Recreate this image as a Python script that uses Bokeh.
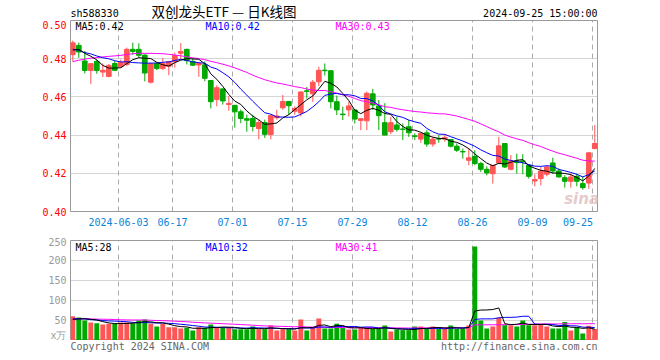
import pandas as pd
from bokeh.plotting import figure
from bokeh.layouts import column
from bokeh.models import Range1d, FixedTicker, Label, ColumnDataSource, NumeralTickFormatter
from bokeh.embed import file_html
from bokeh.resources import INLINE

# ---------------- data ----------------
opens = [0.4821, 0.4870, 0.4788, 0.4738, 0.4786, 0.4730, 0.4707, 0.4775, 0.4758, 0.4770,
         0.4849, 0.4849, 0.4819, 0.4677, 0.4775, 0.4749, 0.4761, 0.4784, 0.4828, 0.4849,
         0.4786, 0.4767, 0.4768, 0.4686, 0.4586, 0.4642, 0.4560, 0.4556, 0.4522, 0.4486,
         0.4487, 0.4434, 0.4466, 0.4403, 0.4491, 0.4543, 0.4576, 0.4525, 0.4516, 0.4632,
         0.4616, 0.4679, 0.4740, 0.4737, 0.4575, 0.4510, 0.4532, 0.4532, 0.4477, 0.4475,
         0.4616, 0.4553, 0.4465, 0.4418, 0.4453, 0.4432, 0.4444, 0.4396, 0.4379, 0.4412,
         0.4353, 0.4381, 0.4379, 0.4377, 0.4342, 0.4314, 0.4268, 0.4289, 0.4251, 0.4221,
         0.4198, 0.4254, 0.4356, 0.4221, 0.4265, 0.4265, 0.4242, 0.4160, 0.4172, 0.4195,
         0.4254, 0.4212, 0.4177, 0.4158, 0.4184, 0.4146, 0.4149, 0.4330]
highs = [0.4895, 0.4885, 0.4840, 0.4776, 0.4795, 0.4775, 0.4772, 0.4788, 0.4796, 0.4858,
         0.4884, 0.4880, 0.4822, 0.4779, 0.4779, 0.4805, 0.4788, 0.4832, 0.4882, 0.4852,
         0.4805, 0.4779, 0.4786, 0.4686, 0.4661, 0.4644, 0.4605, 0.4556, 0.4534, 0.4507,
         0.4507, 0.4481, 0.4481, 0.4507, 0.4533, 0.4610, 0.4577, 0.4551, 0.4628, 0.4652,
         0.4689, 0.4758, 0.4775, 0.4740, 0.4607, 0.4549, 0.4575, 0.4532, 0.4489, 0.4628,
         0.4642, 0.4584, 0.4567, 0.4496, 0.4496, 0.4461, 0.4479, 0.4409, 0.4412, 0.4426,
         0.4391, 0.4400, 0.4405, 0.4377, 0.4356, 0.4330, 0.4330, 0.4321, 0.4260, 0.4237,
         0.4242, 0.4391, 0.4356, 0.4295, 0.4303, 0.4300, 0.4242, 0.4195, 0.4233, 0.4242,
         0.4282, 0.4225, 0.4190, 0.4198, 0.4198, 0.4184, 0.4312, 0.4453]
lows = [0.4786, 0.4805, 0.4723, 0.4668, 0.4721, 0.4704, 0.4703, 0.4735, 0.4753, 0.4761,
        0.4820, 0.4805, 0.4681, 0.4670, 0.4740, 0.4740, 0.4714, 0.4753, 0.4796, 0.4770,
        0.4761, 0.4705, 0.4682, 0.4540, 0.4551, 0.4560, 0.4528, 0.4439, 0.4462, 0.4418,
        0.4419, 0.4378, 0.4385, 0.4378, 0.4481, 0.4533, 0.4506, 0.4506, 0.4498, 0.4592,
        0.4574, 0.4656, 0.4712, 0.4540, 0.4505, 0.4479, 0.4497, 0.4460, 0.4426, 0.4426,
        0.4532, 0.4426, 0.4400, 0.4405, 0.4418, 0.4374, 0.4391, 0.4374, 0.4360, 0.4339,
        0.4339, 0.4360, 0.4365, 0.4335, 0.4312, 0.4277, 0.4242, 0.4242, 0.4207, 0.4189,
        0.4146, 0.4251, 0.4228, 0.4216, 0.4198, 0.4195, 0.4172, 0.4132, 0.4137, 0.4184,
        0.4198, 0.4177, 0.4125, 0.4125, 0.4132, 0.4114, 0.4119, 0.4325]
closes = [0.4883, 0.4835, 0.4738, 0.4774, 0.4738, 0.4739, 0.4765, 0.4739, 0.4782, 0.4849,
          0.4838, 0.4818, 0.4725, 0.4774, 0.4749, 0.4774, 0.4784, 0.4816, 0.4838, 0.4790,
          0.4766, 0.4775, 0.4697, 0.4575, 0.4648, 0.4579, 0.4566, 0.4522, 0.4487, 0.4478,
          0.4445, 0.4466, 0.4404, 0.4502, 0.4500, 0.4576, 0.4554, 0.4539, 0.4626, 0.4628,
          0.4677, 0.4739, 0.4737, 0.4575, 0.4532, 0.4507, 0.4553, 0.4484, 0.4486, 0.4619,
          0.4558, 0.4502, 0.4400, 0.4465, 0.4430, 0.4430, 0.4412, 0.4393, 0.4409, 0.4353,
          0.4379, 0.4379, 0.4388, 0.4342, 0.4321, 0.4312, 0.4281, 0.4251, 0.4221, 0.4202,
          0.4242, 0.4344, 0.4233, 0.4265, 0.4256, 0.4260, 0.4184, 0.4167, 0.4212, 0.4233,
          0.4212, 0.4181, 0.4158, 0.4181, 0.4158, 0.4125, 0.4307, 0.4356]
volumes = [60.8, 57.5, 50, 45, 43.3, 40, 41.7, 41.7, 45, 45,
           43.3, 50, 52.5, 41.7, 35, 41.7, 33.3, 33.3, 30, 31.7,
           25, 33.3, 31.7, 40, 31.7, 31.7, 31.7, 28.3, 28.3, 28.3,
           35, 28.3, 28.3, 37.5, 25, 28.3, 28.3, 25, 52.5, 25,
           31.7, 55, 30, 30, 42, 31, 27.5, 27.5, 32, 32,
           29, 29, 37.5, 22.5, 27.5, 26, 26, 35, 35, 29,
           35, 29, 29, 37.5, 29, 29, 37.5, 235, 50, 30,
           35, 56.7, 38.3, 38.3, 35, 50, 38.3, 38.3, 40, 35,
           30, 30, 46, 25, 33, 17.5, 37, 29]
# closes / volumes of the sessions before the first visible bar (moving-average warm-up)
prior_closes = [0.462, 0.458, 0.461, 0.465, 0.463, 0.468, 0.466, 0.470, 0.472, 0.471,
                0.474, 0.476, 0.475, 0.479, 0.480, 0.488, 0.493, 0.496, 0.494, 0.494,
                0.489, 0.486, 0.484, 0.485, 0.483, 0.482, 0.484, 0.485, 0.4834]
prior_volumes = [48, 52, 61, 55, 50, 47, 58, 62, 54, 51, 49, 56, 60, 53, 50, 52, 57, 55, 48, 63,
                 58, 55, 60, 52, 55, 50, 47, 53, 51.6]
tick_index = [8, 17, 27, 37, 47, 57, 67, 77, 87]
tick_labels = ["2024-06-03", "06-17", "07-01", "07-15", "07-29", "08-12", "08-26", "09-09", "09-25"]
price_ticks = [0.40, 0.42, 0.44, 0.46, 0.48, 0.50]
volume_ticks = [0, 50, 100, 150, 200, 250]
price_ma_labels = ["MA5:0.42", "MA10:0.42", "MA30:0.43"]
volume_ma_labels = ["MA5:28", "MA10:32", "MA30:41"]
title_text = "双创龙头ETF — 日K线图"
code_text = "sh588330"
time_text = "2024-09-25 15:00:00"
copyright_text = "Copyright 2024 SINA.COM"
url_text = "http://finance.sina.com.cn"

# ---------------- derived ----------------
n = len(closes)
idx = list(range(n))
cs = pd.Series(prior_closes + closes)
vs = pd.Series(prior_volumes + volumes)
npri = len(prior_closes)
ma = {k: cs.rolling(k).mean().tolist()[npri:] for k in (5, 10, 30)}
vma = {k: vs.rolling(k).mean().tolist()[npri:] for k in (5, 10, 30)}

RED = "#ff5555"
GREEN = "#00a800"
colors = [RED if c >= o else GREEN for o, c in zip(opens, closes)]
src = ColumnDataSource(dict(x=idx, o=opens, h=highs, l=lows, c=closes,
                            top=[max(a, b) for a, b in zip(opens, closes)],
                            bot=[min(a, b) for a, b in zip(opens, closes)],
                            v=volumes, color=colors))

MONO = "DejaVu Sans Mono"
GRID = "#aaaaaa"
XR = Range1d(-0.383, 87.45)
grid_ticks = [i - 0.375 for i in tick_index]
# the last date label is drawn left of its grid line so that it stays inside the chart
label_ticks = grid_ticks[:-1] + [84.2]
W = 652
BL, BR = 70, 55


def lab(fig, x, y, text, color, align="left", size="10px", font=MONO, style="normal", alpha=1.0):
    fig.add_layout(Label(x=x, y=y, text=text, text_color=color, text_align=align,
                         text_baseline="middle", text_font_size=size, text_font=font,
                         text_font_style=style, text_alpha=alpha))


def bare(height):
    f = figure(width=W, height=height, x_range=XR, y_range=Range1d(0, height),
               output_backend="svg", toolbar_location=None, title=None,
               min_border_left=BL, min_border_right=BR, min_border_top=0, min_border_bottom=0)
    f.axis.visible = False
    f.grid.visible = False
    f.outline_line_color = None
    return f


# ---------------- header ----------------
h = bare(20)
lab(h, XR.start, 7, code_text, "#000000")
lab(h, 25.2, 9.4, title_text, "#000000", align="center", size="13.5px", font="Noto Sans CJK SC")
lab(h, XR.end, 7, time_text, "#000000", align="right")

# ---------------- main K-line panel ----------------
p = figure(width=W, height=216, x_range=XR, y_range=Range1d(0.40, 0.50),
           output_backend="svg", toolbar_location=None, title=None,
           min_border_left=BL, min_border_right=BR, min_border_top=0, min_border_bottom=25)
p.outline_line_color = "#999999"

p.xaxis.ticker = FixedTicker(ticks=label_ticks)
p.xaxis.major_label_overrides = {t: s for t, s in zip(label_ticks, tick_labels)}
p.xgrid.ticker = FixedTicker(ticks=grid_ticks)
p.yaxis.ticker = FixedTicker(ticks=price_ticks)
p.ygrid.ticker = FixedTicker(ticks=price_ticks[1:-1])
p.yaxis.formatter = NumeralTickFormatter(format="0.00")
for ax in (p.xaxis[0], p.yaxis[0]):
    ax.axis_line_color = None
    ax.major_tick_out = 0
    ax.major_tick_in = 0
    ax.minor_tick_out = 0
    ax.minor_tick_in = 0
    ax.major_label_text_font = MONO
    ax.major_label_text_font_size = "10px"
p.yaxis.major_label_text_color = "#ff0000"
p.yaxis.major_label_standoff = 4
p.xaxis.major_label_text_color = "#0a84d8"
p.xaxis.major_label_standoff = 6
p.xgrid.grid_line_color = GRID
p.xgrid.grid_line_dash = "5 4"
p.ygrid.grid_line_color = GRID
p.ygrid.grid_line_dash = "1 1"

p.segment(x0="x", y0="l", x1="x", y1="h", color="color", line_width=1, source=src)
p.vbar(x="x", top="top", bottom="bot", width=0.78, fill_color="color", line_color="color",
       line_width=1, source=src)
p.line(idx, ma[30], color="#ff00ff", line_width=1)
p.line(idx, ma[10], color="#0000ff", line_width=1)
p.line(idx, ma[5], color="#000000", line_width=1)

lab(p, 0.45, 0.4968, price_ma_labels[0], "#000000")
lab(p, 22.12, 0.4968, price_ma_labels[1], "#0000ff")
lab(p, 43.78, 0.4968, price_ma_labels[2], "#ff00ff")
lab(p, 84.8, 0.4068, "sina", "#e2c4c4", align="center", size="15px", font="DejaVu Sans",
    style="bold italic", alpha=0.9)

# ---------------- volume panel ----------------
q = figure(width=W, height=104, x_range=XR, y_range=Range1d(0, 250),
           output_backend="svg", toolbar_location=None, title=None,
           min_border_left=BL, min_border_right=BR, min_border_top=4, min_border_bottom=0)
q.outline_line_color = "#999999"
q.xaxis.visible = False
q.xgrid.ticker = FixedTicker(ticks=grid_ticks)
q.xgrid.grid_line_color = GRID
q.xgrid.grid_line_dash = "5 4"
q.yaxis.ticker = FixedTicker(ticks=volume_ticks)
q.yaxis.major_label_overrides = {0: "x万"}
q.ygrid.ticker = FixedTicker(ticks=volume_ticks[1:-1])
q.ygrid.grid_line_color = GRID
q.ygrid.grid_line_dash = "1 1"
ya = q.yaxis[0]
ya.axis_line_color = None
ya.major_tick_out = 0
ya.major_tick_in = 0
ya.minor_tick_out = 0
ya.minor_tick_in = 0
ya.major_label_text_font = MONO
ya.major_label_text_font_size = "10px"
ya.major_label_text_color = "#999999"
ya.major_label_standoff = 4

q.vbar(x="x", top="v", bottom=0, width=0.82, fill_color="color", line_color=None, source=src)
q.line(idx, vma[30], color="#ff00ff", line_width=1)
q.line(idx, vma[10], color="#0000ff", line_width=1)
q.line(idx, vma[5], color="#000000", line_width=1)

lab(q, 0.45, 232.5, volume_ma_labels[0], "#000000")
lab(q, 22.12, 232.5, volume_ma_labels[1], "#0000ff")
lab(q, 43.78, 232.5, volume_ma_labels[2], "#ff00ff")

# ---------------- footer ----------------
f = bare(14)
lab(f, XR.start, 8, copyright_text, "#666666")
lab(f, XR.end, 8, url_text, "#666666", align="right")

layout = column(h, p, q, f, spacing=0)
open("out.html", "w").write(file_html(layout, INLINE))
